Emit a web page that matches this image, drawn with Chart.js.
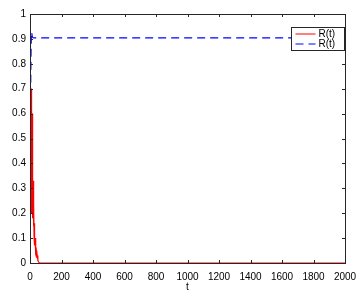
<!DOCTYPE html>
<html>
<head>
<meta charset="utf-8">
<script src="https://cdn.jsdelivr.net/npm/chart.js@4/dist/chart.umd.min.js"></script>
<style>
  html, body { margin: 0; padding: 0; background: #fff; }
  #wrap { width: 360px; height: 293px; }
</style>
</head>
<body>
<div id="wrap"><canvas id="c" width="360" height="293"></canvas></div>
<script>
// red curve R(t)
var redT = [0, 1, 2, 3, 4, 5, 6, 7, 8, 9, 10, 11, 12, 13, 14, 15, 16, 17, 18, 19, 20, 22, 24, 26, 28, 30, 32, 34, 36, 38, 40, 43, 46, 50, 55, 60, 2000];
var redR = [0.2, 0.35, 0.55, 0.68, 0.62, 0.3, 0.5, 0.7, 0.58, 0.35, 0.62, 0.48, 0.2, 0.5, 0.6, 0.38, 0.22, 0.45, 0.3, 0.18, 0.33, 0.15, 0.24, 0.1, 0.16, 0.07, 0.1, 0.05, 0.08, 0.04, 0.05, 0.02, 0.03, 0.01, 0.004, 0, 0];
// blue dashed curve R(t)
var blueT = [0, 1, 2, 3, 4, 5, 6, 7, 8, 9, 10, 11, 12, 14, 16, 18, 22, 30, 2000];
var blueR = [0.15, 0.3, 0.45, 0.58, 0.68, 0.76, 0.82, 0.87, 0.9, 0.915, 0.925, 0.928, 0.92, 0.912, 0.908, 0.905, 0.904, 0.904, 0.904];
var legendLabels = ['R(t)', 'R(t)'];
var xTicks = [0, 200, 400, 600, 800, 1000, 1200, 1400, 1600, 1800, 2000];
var yTicks = [0, 0.1, 0.2, 0.3, 0.4, 0.5, 0.6, 0.7, 0.8, 0.9, 1];

function pts(xs, ys) {
  return xs.map(function(x, i) { return {x: x, y: ys[i]}; });
}

var axisColor = '#262626';
var fontFam = '"Liberation Sans", Arial, sans-serif';

var boxPlugin = {
  id: 'box',
  afterDraw: function(chart) {
    var ctx = chart.ctx, a = chart.chartArea;
    var xs = chart.scales.x, ys = chart.scales.y;
    ctx.save();
    ctx.strokeStyle = axisColor;
    ctx.lineWidth = 1;
    ctx.strokeRect(Math.round(a.left) + 0.5, Math.round(a.top) + 0.5, Math.round(a.right - a.left), Math.round(a.bottom - a.top));
    ctx.beginPath();
    xTicks.forEach(function(v) {
      var p = Math.round(xs.getPixelForValue(v)) + 0.5;
      ctx.moveTo(p, a.bottom); ctx.lineTo(p, a.bottom - 3);
      ctx.moveTo(p, a.top); ctx.lineTo(p, a.top + 3);
    });
    yTicks.forEach(function(v) {
      var p = Math.round(ys.getPixelForValue(v)) + 0.5;
      ctx.moveTo(a.left, p); ctx.lineTo(a.left + 3, p);
      ctx.moveTo(a.right, p); ctx.lineTo(a.right - 3, p);
    });
    ctx.stroke();

    // legend
    var lx = 291.5, ly = 27.5, lw = 53, lh = 23;
    ctx.fillStyle = '#fff';
    ctx.fillRect(lx, ly, lw, lh);
    ctx.strokeStyle = axisColor;
    ctx.strokeRect(lx, ly, lw, lh);
    ctx.font = '10px ' + fontFam;
    ctx.textBaseline = 'middle';
    chart.data.datasets.forEach(function(ds, i) {
      var y = ly + 6.5 + i * 10;
      ctx.strokeStyle = ds.borderColor;
      ctx.lineWidth = 1;
      ctx.setLineDash(ds.borderDash || []);
      ctx.beginPath();
      ctx.moveTo(lx + 4, y); ctx.lineTo(lx + 24, y);
      ctx.stroke();
      ctx.setLineDash([]);
      ctx.fillStyle = '#000';
      ctx.fillText(legendLabels[i], lx + 27, y);
    });
    ctx.restore();
  }
};

new Chart(document.getElementById('c'), {
  type: 'line',
  data: {
    datasets: [
      {
        label: legendLabels[0],
        data: pts(redT, redR),
        borderColor: '#ff0000',
        borderWidth: 1.2,
        pointRadius: 0,
        tension: 0,
        fill: false
      },
      {
        label: legendLabels[1],
        data: pts(blueT, blueR),
        borderColor: '#0000ff',
        borderWidth: 1.2,
        borderDash: [8, 5],
        pointRadius: 0,
        tension: 0,
        fill: false
      }
    ]
  },
  options: {
    responsive: false,
    animation: false,
    events: [],
    layout: { padding: { top: 14, right: 15, left: 0, bottom: 0 } },
    plugins: { legend: { display: false }, tooltip: { enabled: false } },
    scales: {
      x: {
        type: 'linear',
        min: 0, max: 2000,
        afterBuildTicks: function(s) { s.ticks = xTicks.map(function(v) { return {value: v}; }); },
        afterFit: function(s) { s.height = 30; s.paddingLeft = 0; s.paddingRight = 0; },
        grid: { drawOnChartArea: false, drawTicks: false },
        border: { display: false },
        ticks: {
          color: '#000', padding: 8, maxRotation: 0, autoSkip: false,
          font: { family: fontFam, size: 10 },
          callback: function(v) { return String(v); }
        },
        title: { display: true, text: 't', color: '#000', padding: { top: 0, bottom: 0 }, font: { family: fontFam, size: 10 } }
      },
      y: {
        min: 0, max: 1,
        afterBuildTicks: function(s) { s.ticks = yTicks.map(function(v) { return {value: v}; }); },
        afterFit: function(s) { s.width = 30; s.paddingTop = 0; s.paddingBottom = 0; },
        grid: { drawOnChartArea: false, drawTicks: false },
        border: { display: false },
        ticks: {
          color: '#000', padding: 4, autoSkip: false,
          font: { family: fontFam, size: 10 },
          callback: function(v) { return String(v); }
        }
      }
    }
  },
  plugins: [boxPlugin]
});
</script>
</body>
</html>
